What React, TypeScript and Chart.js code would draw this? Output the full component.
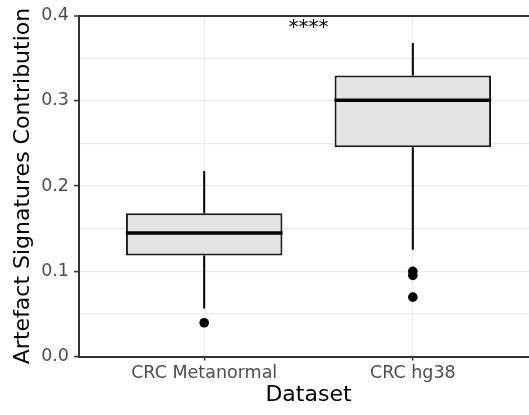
import React, { useEffect, useRef } from 'react';
import { Chart, registerables } from 'chart.js';

Chart.register(...registerables);

// ---- data ----
const categories = ['CRC Metanormal', 'CRC hg38'];
const q1 = [0.1185, 0.2456];
const medians = [0.145, 0.3007];
const q3 = [0.168, 0.3295];
const whiskerLow = [0.0564, 0.1252];
const whiskerHigh = [0.2176, 0.3676];
const outliers = [[0.0396], [0.0999, 0.0952, 0.0696]];
const yMin = 0;
const yMax = 0.4;
const yStep = 0.05;
const significanceLabel = '****';
const significanceX = 1.5;
const significanceY = 0.38;

const FONT = "'DejaVu Sans', Verdana, sans-serif";

const isMajor = (v: number) => Math.round(v * 100) % 10 === 0;

export default function App() {
  const ref = useRef<HTMLCanvasElement | null>(null);

  useEffect(() => {
    document.body.style.margin = '0';
    const canvas = ref.current;
    if (!canvas) return;

    const xs = categories.map((_, i) => i + 1);

    const boxData = xs.map((x, i) => ({ x, y: [q1[i], q3[i]] }));
    const medianData = xs.map((x, i) => ({ x, y: medians[i] }));
    const whiskerData: any[] = [];
    xs.forEach((x, i) => {
      whiskerData.push({ x, y: q3[i] }, { x, y: whiskerHigh[i] }, { x, y: null });
      whiskerData.push({ x, y: q1[i] }, { x, y: whiskerLow[i] }, { x, y: null });
    });
    const outlierData: any[] = [];
    xs.forEach((x, i) => outliers[i].forEach((v) => outlierData.push({ x, y: v })));

    const sigPlugin = {
      id: 'sig',
      afterDatasetsDraw(chart: any) {
        const { ctx, scales } = chart;
        ctx.save();
        ctx.fillStyle = '#000000';
        ctx.font = `20px ${FONT}`;
        ctx.textAlign = 'center';
        ctx.textBaseline = 'alphabetic';
        ctx.fillText(
          significanceLabel,
          scales.x.getPixelForValue(significanceX),
          scales.y.getPixelForValue(significanceY)
        );
        ctx.restore();
      },
    };

    const chart = new Chart(canvas, {
      type: 'bar',
      data: {
        datasets: [
          {
            type: 'scatter',
            data: medianData,
            pointStyle: 'line',
            pointRadius: 78.3,
            pointHoverRadius: 78.3,
            borderColor: '#000000',
            borderWidth: 3.5,
            order: 0,
          } as any,
          {
            type: 'scatter',
            data: outlierData,
            pointStyle: 'circle',
            pointRadius: 4.8,
            backgroundColor: '#000000',
            borderWidth: 0,
            order: 0,
          } as any,
          {
            type: 'line',
            data: whiskerData,
            borderColor: '#000000',
            borderWidth: 2,
            pointRadius: 0,
            spanGaps: false,
            fill: false,
            order: 1,
          } as any,
          {
            type: 'bar',
            data: boxData,
            backgroundColor: '#e4e4e4',
            borderColor: '#1a1a1a',
            borderWidth: 2,
            borderSkipped: false,
            barPercentage: 0.75,
            categoryPercentage: 1,
            order: 2,
          } as any,
        ],
      },
      options: {
        responsive: false,
        animation: false,
        devicePixelRatio: 1,
        layout: { autoPadding: false, padding: { top: 13, right: 0, bottom: 0, left: 0 } },
        plugins: {
          legend: { display: false },
          tooltip: { enabled: false },
        },
        scales: {
          x: {
            type: 'linear',
            min: 0.4,
            max: 2.6,
            offset: false,
            afterBuildTicks: (scale: any) => {
              scale.ticks = xs.map((v) => ({ value: v }));
            },
            afterFit: (scale: any) => {
              scale.height = 58.5;
            },
            ticks: {
              callback: (v: any) => categories[Math.round(Number(v)) - 1] ?? '',
              color: '#4d4d4d',
              font: { family: FONT, size: 17.5 },
              padding: 2,
              maxRotation: 0,
              autoSkip: false,
            },
            grid: {
              offset: false,
              color: '#ebebeb',
              lineWidth: 1.2,
              tickColor: '#333333',
              tickLength: 4,
              tickWidth: 1.5,
            },
            border: { color: '#333333', width: 2 },
            title: {
              display: true,
              text: 'Dataset',
              color: '#000000',
              font: { family: FONT, size: 22 },
              padding: { top: 0, bottom: 7 },
            },
          },
          y: {
            type: 'linear',
            min: yMin,
            max: yMax,
            afterFit: (scale: any) => {
              scale.width = 79;
            },
            ticks: {
              stepSize: yStep,
              callback: (v: any) => (isMajor(Number(v)) ? Number(v).toFixed(1) : ''),
              color: '#4d4d4d',
              font: { family: FONT, size: 17.5 },
              padding: 5,
            },
            grid: {
              color: (c: any) => (c.tick && Math.abs(c.tick.value - yMax) < 1e-9 ? '#333333' : '#ebebeb'),
              lineWidth: (c: any) => (c.tick && Math.abs(c.tick.value - yMax) < 1e-9 ? 2 : 1.2),
              tickColor: (c: any) => (c.tick && isMajor(c.tick.value) ? '#333333' : 'rgba(0,0,0,0)'),
              tickLength: 5,
              tickWidth: 1.5,
            },
            border: { color: '#333333', width: 2 },
            title: {
              display: true,
              text: 'Artefact Signatures Contribution',
              color: '#000000',
              font: { family: FONT, size: 22 },
              padding: { top: 10, bottom: 0 },
            },
          },
        },
      },
      plugins: [sigPlugin],
    } as any);

    return () => chart.destroy();
  }, []);

  return (
    <div style={{ width: 529, height: 415, overflow: 'hidden', background: '#ffffff' }}>
      <canvas ref={ref} width={538} height={415} style={{ width: 538, height: 415, display: 'block' }} />
    </div>
  );
}
